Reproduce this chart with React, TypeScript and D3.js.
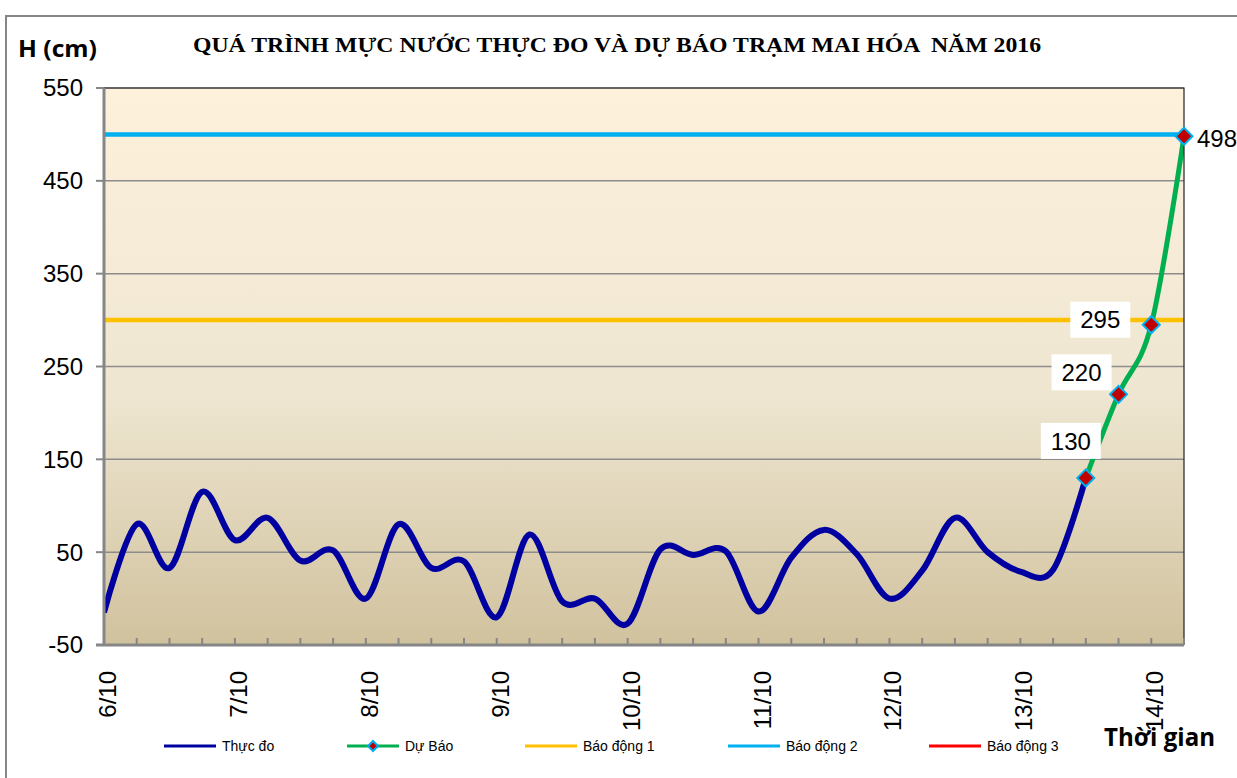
import React from "react";
import * as d3 from "d3";

// day labels on the x axis (one label every 4 steps of 6 hours)
const days = ["6/10", "7/10", "8/10", "9/10", "10/10", "11/10", "12/10", "13/10", "14/10"];
const hours = ["1h", "7h", "13h", "19h"];
const categories = days.flatMap((d) => hours.map((h) => `${h} ${d}`)).slice(0, 34);

// measured water level (cm)
const measured = [
  -15, 80, 33, 115, 63, 87, 41, 52, 0, 80, 33, 40, -20, 69, -3, 0, -27, 53, 47, 51,
  -14, 44, 74, 48, 0, 30, 87, 50, 29, 31, 130,
];
// forecast (starts at the last measured point)
const forecastStart = 30;
const forecast = [130, 220, 295, 498];

const alarmNames = ["Báo động 1", "Báo động 2", "Báo động 3"];
const alarmValues = [300, 500, 650];
const alarmColors = ["#FFC000", "#00B0F0", "#FF0000"];

const yTicks = [-50, 50, 150, 250, 350, 450, 550];

const W = 1237;
const H = 778;
const plot = { left: 104, right: 1184, top: 88, bottom: 645 };

// label offsets relative to their forecast point
const labelOffsets: [number, number][] = [
  [-15, -37],
  [-37, -22],
  [-51, -5],
];

const font = "Liberation Sans, Arial, sans-serif";

const App = () => {
  const x = d3.scalePoint<string>().domain(categories).range([plot.left, plot.right]);
  const y = d3.scaleLinear().domain([-50, 550]).range([plot.bottom, plot.top]);

  const line = d3
    .line<[number, number]>()
    .x((d) => d[0])
    .y((d) => d[1])
    .curve(d3.curveCardinal.tension(0));

  const measuredPts: [number, number][] = measured.map((v, i) => [x(categories[i])!, y(v)]);
  const forecastPts: [number, number][] = forecast.map((v, i) => [
    x(categories[forecastStart + i])!,
    y(v),
  ]);

  const diamond = (cx: number, cy: number, r: number) =>
    `M${cx},${cy - r}L${cx + r},${cy}L${cx},${cy + r}L${cx - r},${cy}Z`;

  const legend = [
    { name: "Thực đo", color: "#0000A0", x0: 164, marker: false },
    { name: "Dự Báo", color: "#00B050", x0: 347, marker: true },
    { name: alarmNames[0], color: alarmColors[0], x0: 525, marker: false },
    { name: alarmNames[1], color: alarmColors[1], x0: 728, marker: false },
    { name: alarmNames[2], color: alarmColors[2], x0: 929, marker: false },
  ];

  return (
    <div style={{ position: "absolute", left: 0, top: 0 }}>
      <svg width={W} height={H} style={{ display: "block", background: "#fff" }}>
        <defs>
          <linearGradient id="bg" x1="0" y1="0" x2="0" y2="1">
            <stop offset="0%" stopColor="#FEF1DC" />
            <stop offset="55%" stopColor="#EEE6D1" />
            <stop offset="100%" stopColor="#D1C29E" />
          </linearGradient>
          <clipPath id="clip">
            <rect x={plot.left} y={plot.top} width={plot.right - plot.left} height={plot.bottom - plot.top} />
          </clipPath>
        </defs>

        {/* outer chart frame */}
        <path d={`M6,${H}V16H${W}`} fill="none" stroke="#868686" strokeWidth={2} />

        <text
          x={617}
          y={52}
          textAnchor="middle"
          fontFamily="Liberation Serif, Times New Roman, serif"
          fontWeight="bold"
          fontSize={20}
          textLength={848}
          lengthAdjust="spacingAndGlyphs"
          style={{ whiteSpace: "pre" }}
        >
          QUÁ TRÌNH MỰC NƯỚC THỰC ĐO VÀ DỰ BÁO TRẠM MAI HÓA  NĂM 2016
        </text>
        <text
          x={18}
          y={57}
          fontFamily="Open Sans, sans-serif"
          fontWeight="bold"
          fontSize={24}
          textLength={79}
          lengthAdjust="spacingAndGlyphs"
        >
          H (cm)
        </text>

        <rect
          x={plot.left}
          y={plot.top}
          width={plot.right - plot.left}
          height={plot.bottom - plot.top}
          fill="url(#bg)"
        />

        {yTicks.map((t) => (
          <line key={t} x1={plot.left} x2={plot.right} y1={y(t)} y2={y(t)} stroke="#8C8C8C" strokeWidth={1.5} />
        ))}

        <g clipPath="url(#clip)">
          {alarmValues.map((v, i) => (
            <line key={i} x1={plot.left} x2={plot.right} y1={y(v)} y2={y(v)} stroke={alarmColors[i]} strokeWidth={4.5} />
          ))}
          <path d={line(measuredPts)!} fill="none" stroke="#0000A0" strokeWidth={6} strokeLinejoin="round" />
          <path d={line(forecastPts)!} fill="none" stroke="#00B050" strokeWidth={5} strokeLinejoin="round" />
        </g>

        {/* plot border */}
        <path d={`M${plot.left},${plot.top}H${plot.right}V${plot.bottom}`} fill="none" stroke="#222" strokeWidth={1.2} />
        <line x1={plot.left} x2={plot.left} y1={plot.top} y2={plot.bottom} stroke="#868686" strokeWidth={3} />
        <line x1={plot.left - 8} x2={plot.right} y1={plot.bottom} y2={plot.bottom} stroke="#868686" strokeWidth={3} />

        {/* y axis */}
        {yTicks.map((t) => (
          <g key={t}>
            <line x1={plot.left - 8} x2={plot.left} y1={y(t)} y2={y(t)} stroke="#868686" strokeWidth={2} />
            <text x={83} y={y(t)} dy="0.35em" textAnchor="end" fontFamily={font} fontSize={24}>
              {t}
            </text>
          </g>
        ))}

        {/* x axis */}
        {categories.map((c, i) => (
          <g key={c}>
            <line x1={x(c)} x2={x(c)} y1={plot.bottom} y2={plot.bottom - 7} stroke="#868686" strokeWidth={2} />
            {i % 4 === 0 && (
              <text
                transform={`translate(${x(c)! + 12},671) rotate(-90)`}
                textAnchor="end"
                fontFamily={font}
                fontSize={24}
              >
                {days[i / 4]}
              </text>
            )}
          </g>
        ))}

        {/* forecast markers and labels */}
        {forecastPts.map(([px, py], i) => (
          <path key={i} d={diamond(px, py, 8.5)} fill="#C00000" stroke="#00B0F0" strokeWidth={2} />
        ))}
        {forecast.slice(0, 3).map((v, i) => {
          const [px, py] = forecastPts[i];
          const cx = px + labelOffsets[i][0];
          const cy = py + labelOffsets[i][1];
          return (
            <g key={i}>
              <rect x={cx - 30} y={cy - 18} width={60} height={36} fill="#fff" />
              <text x={cx} y={cy} dy="0.36em" textAnchor="middle" fontFamily={font} fontSize={24}>
                {v}
              </text>
            </g>
          );
        })}
        <text
          x={forecastPts[3][0] + 13}
          y={forecastPts[3][1] + 2}
          dy="0.36em"
          fontFamily={font}
          fontSize={24}
        >
          {forecast[3]}
        </text>

        {/* legend */}
        {legend.map((d) => (
          <g key={d.name}>
            <line x1={d.x0} x2={d.x0 + 52} y1={746} y2={746} stroke={d.color} strokeWidth={3} />
            {d.marker && (
              <path d={diamond(d.x0 + 26, 746, 5)} fill="#C00000" stroke="#00B0F0" strokeWidth={2} />
            )}
            <text x={d.x0 + 58} y={746} dy="0.35em" fontFamily={font} fontSize={14}>
              {d.name}
            </text>
          </g>
        ))}

        <text
          x={1104}
          y={746}
          fontFamily="Open Sans, sans-serif"
          fontWeight="bold"
          fontSize={25}
          textLength={111}
          lengthAdjust="spacingAndGlyphs"
        >
          Thời gian
        </text>
      </svg>
    </div>
  );
};

export default App;
